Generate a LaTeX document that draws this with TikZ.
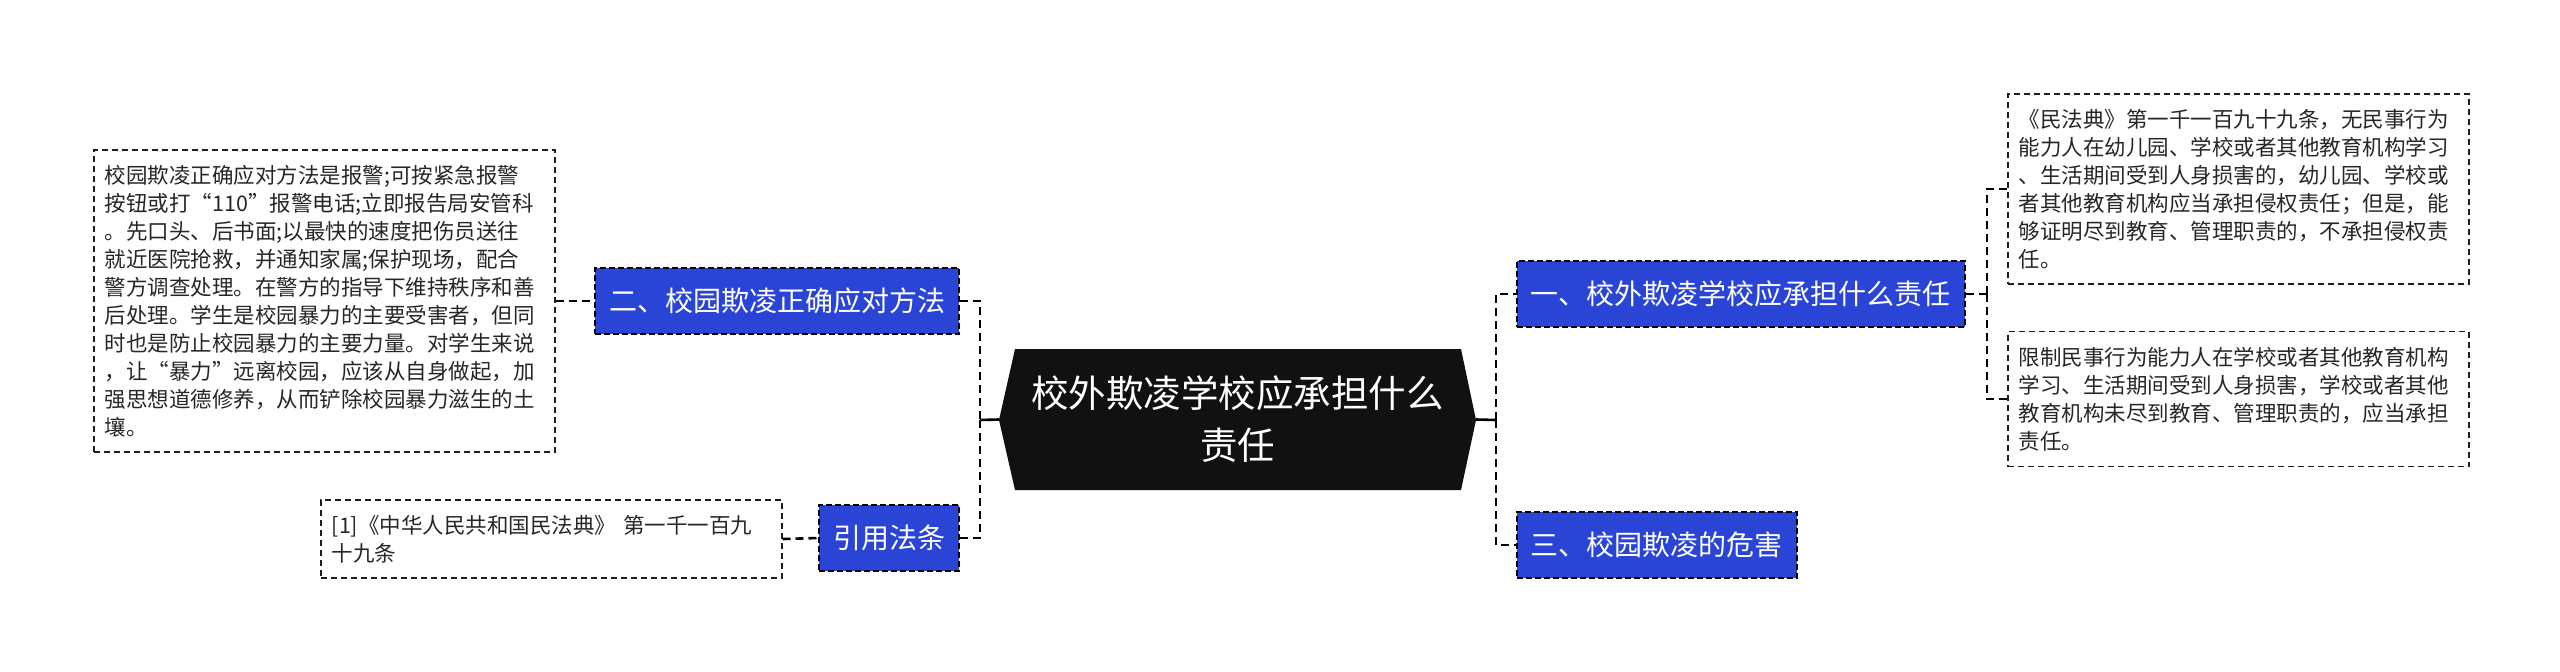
\documentclass[tikz,border=0pt]{standalone}
\usepackage{fontspec}
\setmainfont{Noto Sans CJK SC}
\definecolor{topicblue}{HTML}{2A45D6}
\definecolor{rootfill}{HTML}{111111}
\definecolor{notegrey}{HTML}{1E1E1E}
\definecolor{textgrey}{HTML}{262626}
\begin{document}
\begin{tikzpicture}[x=1pt,y=-1pt,
  conn/.style={draw=black, line width=2.6pt, dash pattern=on 8pt off 5pt},
  solidconn/.style={draw=black, line width=2.6pt},
  topic/.style={fill=topicblue, draw=black, line width=1.6pt, dash pattern=on 6pt off 3pt,
    text=white, font=\fontsize{28}{34}\selectfont, inner xsep=14pt, inner ysep=0pt,
    minimum height=66pt},
  note/.style={draw=notegrey, line width=1.5pt, dash pattern=on 6pt off 4pt,
    font=\fontsize{21.5}{28}\selectfont, text width=439pt, align=left,
    inner xsep=11pt, inner ysep=0pt, text=textgrey}]
\useasboundingbox (0,0) rectangle (2560,672);

% central node
\fill[rootfill] (999,420) -- (1015,349) -- (1461,349) -- (1476,420) -- (1461,490) -- (1015,490) -- cycle;
\node[minimum width=477pt, minimum height=141pt, inner sep=0pt, text=white, align=center,
  font=\fontsize{37.5}{52}\selectfont] (root) at (1237.5,419.5) {校外欺凌学校应承担什么\\责任};

% left topics
\node[topic, anchor=east] (L2) at (960,301) {二、校园欺凌正确应对方法};
\node[topic, anchor=east] (L3) at (960,538) {引用法条};

% right topics
\node[topic, anchor=west] (R1) at (1516,294) {一、校外欺凌学校应承担什么责任};
\node[topic, anchor=west] (R3) at (1516,545) {三、校园欺凌的危害};

% notes
\node[note, minimum height=302pt, anchor=west] (NL) at (93,301) {校园欺凌正确应对方法是报警;可按紧急报警\\按钮或打“110”报警电话;立即报告局安管科\\。先口头、后书面;以最快的速度把伤员送往\\就近医院抢救，并通知家属;保护现场，配合\\警方调查处理。在警方的指导下维持秩序和善\\后处理。学生是校园暴力的主要受害者，但同\\时也是防止校园暴力的主要力量。对学生来说\\，让“暴力”远离校园，应该从自身做起，加\\强思想道德修养，从而铲除校园暴力滋生的土\\壤。};
\node[note, minimum height=78pt, anchor=west] (NR) at (320,539) {[1]《中华人民共和国民法典》~第一千一百九\\十九条};
\node[note, minimum height=190pt, anchor=west] (N1) at (2007,189) {《民法典》第一千一百九十九条，无民事行为\\能力人在幼儿园、学校或者其他教育机构学习\\、生活期间受到人身损害的，幼儿园、学校或\\者其他教育机构应当承担侵权责任；但是，能\\够证明尽到教育、管理职责的，不承担侵权责\\任。};
\node[note, minimum height=135pt, anchor=west] (N2) at (2007,399) {限制民事行为能力人在学校或者其他教育机构\\学习、生活期间受到人身损害，学校或者其他\\教育机构未尽到教育、管理职责的，应当承担\\责任。};

% connectors
\coordinate (lj) at (980,420);
\coordinate (rj) at (1496,420);
\coordinate (rj2) at (1987,294);
\draw[solidconn] (root.west) -- (lj);
\draw[solidconn] (root.east) -- (rj);
\draw[conn] (L2.east) -| (lj);
\draw[conn] (L3.east) -| (lj);
\draw[conn] (rj) |- (R1.west);
\draw[conn] (rj) |- (R3.west);
\draw[conn] (R1.east) -- (rj2);
\draw[conn] (rj2) |- (N1.west);
\draw[conn] (rj2) |- (N2.west);
\draw[conn] (NL.east) -- (L2.west);
\draw[conn] (NR.east) -- (L3.west);
\end{tikzpicture}
\end{document}
